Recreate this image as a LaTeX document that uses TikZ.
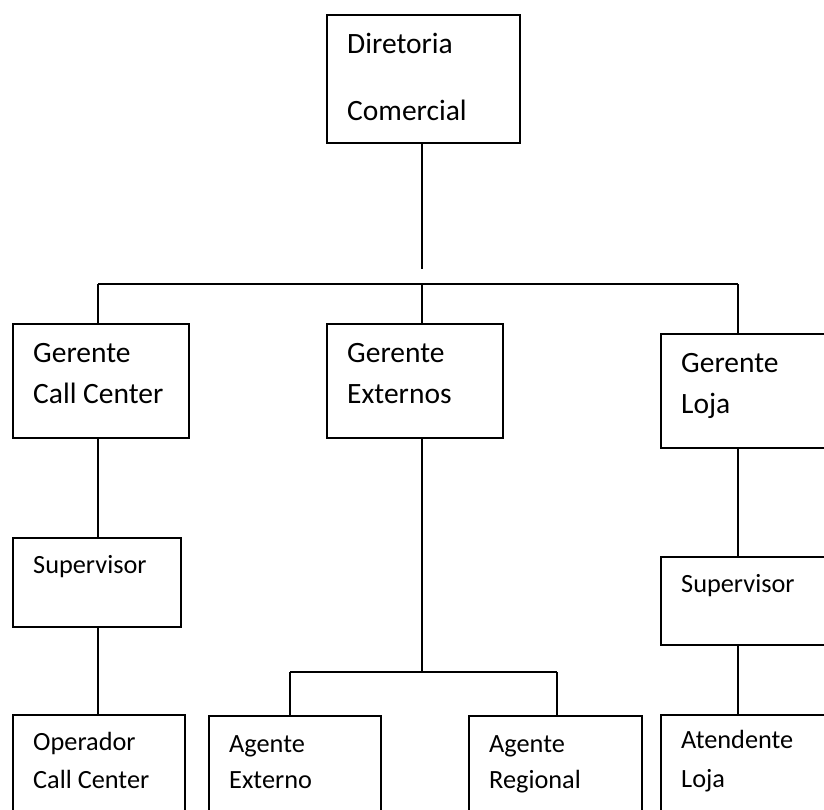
\documentclass[tikz,border=0pt]{standalone}
\usepackage{fontspec}
\setmainfont{Carlito}
\begin{document}
\begin{tikzpicture}[x=1pt,y=-1pt,
  box/.style={draw=black,line width=1.6pt,rectangle,inner sep=0pt,anchor=north west},
  conn/.style={draw=black,line width=1.6pt},
  big/.style={anchor=base west,inner sep=0pt,font=\fontsize{29.5}{31}\selectfont},
  small/.style={anchor=base west,inner sep=0pt,font=\fontsize{26.3}{28}\selectfont}]
\useasboundingbox[fill=white] (0,0) rectangle (824,809);
% boxes
\node[box,minimum width=193pt,minimum height=128pt] (top) at (326,14) {};
\node[box,minimum width=176pt,minimum height=114pt] (gcc) at (12,323) {};
\node[box,minimum width=176pt,minimum height=114pt] (gext) at (326,323) {};
\node[box,minimum width=175pt,minimum height=114pt] (gloja) at (660,333) {};
\node[box,minimum width=168pt,minimum height=89pt] (sup1) at (12,537) {};
\node[box,minimum width=175pt,minimum height=88pt] (sup2) at (660,556) {};
\node[box,minimum width=172pt,minimum height=110pt] (op) at (12,714) {};
\node[box,minimum width=172pt,minimum height=110pt] (agext) at (208,715) {};
\node[box,minimum width=173pt,minimum height=110pt] (agreg) at (468,715) {};
\node[box,minimum width=175pt,minimum height=110pt] (aten) at (660,714) {};
% texts
\node[big] (t1) at (347,53) {Diretoria};
\node[big] (t2) at (347,120) {Comercial};
\node[big] (t3) at (33,362) {Gerente};
\node[big] (t4) at (33,403) {Call Center};
\node[big] (t5) at (347,362) {Gerente};
\node[big] (t6) at (347,403) {Externos};
\node[big] (t7) at (681,372) {Gerente};
\node[big] (t8) at (681,413) {Loja};
\node[small] (t9) at (33,573) {Supervisor};
\node[small] (t10) at (681,592) {Supervisor};
\node[small] (t11) at (33,750) {Operador};
\node[small] (t12) at (33,788) {Call Center};
\node[small] (t13) at (229,752) {Agente};
\node[small] (t14) at (229,788) {Externo};
\node[small] (t15) at (489,752) {Agente};
\node[small] (t16) at (489,788) {Regional};
\node[small] (t17) at (681,748) {Atendente};
\node[small] (t18) at (681,787) {Loja};
% connector coordinates
\coordinate (topend) at (422,269);
\coordinate (hL) at (98,284);
\coordinate (hM) at (422,284);
\coordinate (hR) at (738,284);
\coordinate (mL) at (290,672);
\coordinate (mM) at (422,672);
\coordinate (mR) at (557,672);
% connectors
\draw[conn] (top.south -| topend) -- (topend);
\draw[conn] (hL) -- (hR);
\draw[conn] (hL) -- (hL |- gcc.north);
\draw[conn] (hM) -- (hM |- gext.north);
\draw[conn] (hR) -- (hR |- gloja.north);
\draw[conn] (hL |- gcc.south) -- (hL |- sup1.north);
\draw[conn] (hL |- sup1.south) -- (hL |- op.north);
\draw[conn] (hM |- gext.south) -- (mM);
\draw[conn] (mL) -- (mR);
\draw[conn] (mL) -- (mL |- agext.north);
\draw[conn] (mR) -- (mR |- agreg.north);
\draw[conn] (hR |- gloja.south) -- (hR |- sup2.north);
\draw[conn] (hR |- sup2.south) -- (hR |- aten.north);
\end{tikzpicture}
\end{document}
